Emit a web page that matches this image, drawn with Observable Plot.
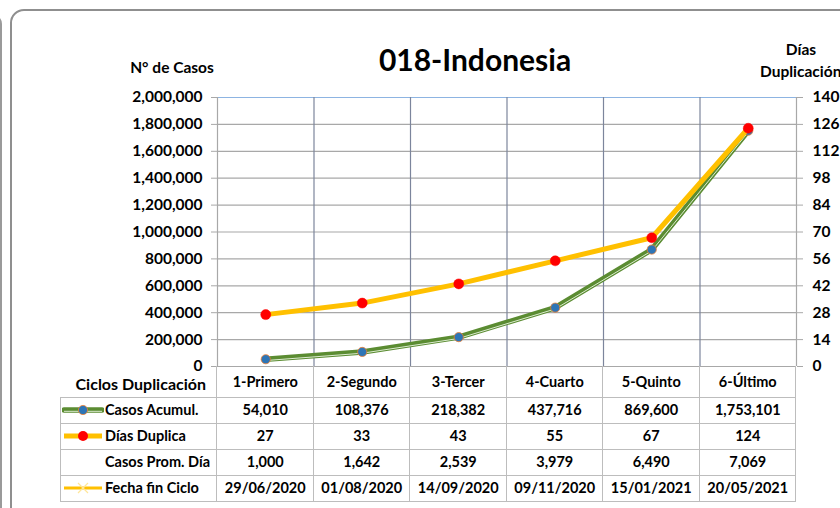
<!DOCTYPE html>
<html>
<head>
<meta charset="utf-8">
<script src="https://cdn.jsdelivr.net/npm/d3@7"></script>
<script src="https://cdn.jsdelivr.net/npm/@observablehq/plot@0.6"></script>
<style>
  body { margin: 0; background: #fff; }
  #wrap { position: relative; width: 840px; height: 508px; overflow: hidden; background: #fff;
          font-family: Lato, "Open Sans", sans-serif; font-weight: bold; color: #000; }
  .abs { position: absolute; white-space: nowrap; }
  #wrap svg { position: absolute; left: 0; top: 0; }
</style>
</head>
<body>
<div id="wrap"></div>
<script>
// ---- data ----
const categories = ["1-Primero", "2-Segundo", "3-Tercer", "4-Cuarto", "5-Quinto", "6-Último"];
const casosAcumul = [54010, 108376, 218382, 437716, 869600, 1753101];
const diasDuplica = [27, 33, 43, 55, 67, 124];
const casosPromDia = [1000, 1642, 2539, 3979, 6490, 7069];
const fechaFinCiclo = ["29/06/2020", "01/08/2020", "14/09/2020", "09/11/2020", "15/01/2021", "20/05/2021"];
const leftTicks = [0, 200000, 400000, 600000, 800000, 1000000, 1200000, 1400000, 1600000, 1800000, 2000000];
const rightTicks = [0, 14, 28, 42, 56, 70, 84, 98, 112, 126, 140];
const title = "018-Indonesia";

const yMax = 2000000, rMax = 140;
const toLeft = d => d * yMax / rMax;
const data = categories.map((c, i) => ({i, c, casos: casosAcumul[i], dias: diasDuplica[i]}));
const xc = d => d.i + 0.5;

const W = 840, H = 508;
const plot = Plot.plot({
  width: W, height: H,
  marginTop: 97, marginBottom: 142, marginLeft: 217, marginRight: 44,
  style: {fontFamily: "Lato, 'Open Sans', sans-serif", fontSize: "15px", fontWeight: "bold", background: "transparent", overflow: "visible", color: "#000"},
  x: {domain: [0, categories.length], axis: null},
  y: {domain: [0, yMax], axis: null},
  marks: [
    Plot.ruleY(leftTicks, {stroke: "#a8a8a8", strokeWidth: 1.2}),
    Plot.ruleY([yMax], {stroke: "#8db4e2", strokeWidth: 1.2}),
    Plot.ruleX(d3.range(1, categories.length), {stroke: "#7c859c", strokeWidth: 1.2}),
    Plot.ruleX([0, categories.length], {stroke: "#a8a8a8", strokeWidth: 1.2}),
    Plot.axisY(leftTicks, {anchor: "left", tickFormat: d3.format(","), tickSize: 6, tickPadding: 9, label: null, stroke: "#a8a8a8", fill: "#000", fontSize: 15.5}),
    Plot.axisY(rightTicks.map(toLeft), {anchor: "right", tickFormat: d => Math.round(d * rMax / yMax), tickSize: 6, tickPadding: 10, label: null, stroke: "#a8a8a8", fill: "#000", fontSize: 15.5}),
    Plot.line(data, {x: xc, y: "casos", stroke: "#5b8c32", strokeWidth: 5.5}),
    Plot.line(data, {x: xc, y: "casos", stroke: "#dcecd0", strokeWidth: 1, dy: 1.3}),
    Plot.dot(data, {x: xc, y: "casos", r: 4.6, fill: "#2e75b6", stroke: "#ed7d31", strokeWidth: 0.8}),
    Plot.line(data, {x: xc, y: d => toLeft(d.dias), stroke: "#ffc000", strokeWidth: 5}),
    Plot.dot(data, {x: xc, y: d => toLeft(d.dias), r: 5, fill: "#ff0000", stroke: "#ff0000", strokeWidth: 0.5})
  ]
});

const wrap = document.getElementById("wrap");
function el(tag, css, text) {
  const e = document.createElement(tag);
  e.className = "abs";
  Object.assign(e.style, css);
  if (text !== undefined) e.textContent = text;
  wrap.appendChild(e);
  return e;
}

// chart frames (rounded borders)
el("div", {left: "-40px", top: "14px", width: "42px", height: "520px", border: "2px solid #9a9a9a", borderRadius: "10px", boxSizing: "border-box"});
el("div", {left: "10px", top: "9px", width: "860px", height: "530px", border: "2px solid #8f8f8f", borderRadius: "14px", boxSizing: "border-box"});

wrap.appendChild(plot);

// titles
el("div", {left: "475px", top: "41px", transform: "translateX(-50%)", fontSize: "30px"}, title);
el("div", {left: "172px", top: "58px", transform: "translateX(-50%)", fontSize: "15.5px"}, "N° de Casos");
el("div", {left: "801px", top: "40px", transform: "translateX(-50%)", fontSize: "15.5px"}, "Días");
el("div", {left: "760px", top: "62px", fontSize: "15.5px"}, "Duplicación");

// data table, aligned on the plot's x scale
const xs = plot.scale("x");
const bounds = d3.range(categories.length + 1).map(i => xs.apply(i));
const yBottom = plot.scale("y").apply(0);
const rowTops = [397, 423, 449, 475];
const rowH = 26;
const tableLeft = 60;
const tableBottom = rowTops[rowTops.length - 1] + rowH;

// header row
el("div", {left: (bounds[0] - 11) + "px", top: "376px", lineHeight: "1", transform: "translateX(-100%)", fontSize: "16px"}, "Ciclos Duplicación");
categories.forEach((c, i) => {
  el("div", {left: ((bounds[i] + bounds[i + 1]) / 2) + "px", top: "373px", transform: "translateX(-50%)", fontSize: "14.5px"}, c);
});

// grid lines of table
rowTops.concat([tableBottom]).forEach(y => {
  el("div", {left: tableLeft + "px", top: (y - 0.5) + "px", width: (bounds[bounds.length - 1] - tableLeft) + "px", height: "0", borderTop: "1.5px solid #bdbdbd"});
});
el("div", {left: (tableLeft - 0.5) + "px", top: rowTops[0] + "px", width: "0", height: (tableBottom - rowTops[0]) + "px", borderLeft: "1.5px solid #bdbdbd"});
bounds.forEach(x => {
  el("div", {left: (x - 0.6) + "px", top: yBottom + "px", width: "0", height: (tableBottom - yBottom) + "px", borderLeft: "1.5px solid #bdbdbd"});
});

const rows = [
  {label: "Casos Acumul.", values: casosAcumul.map(d3.format(",")), key: "green"},
  {label: "Días Duplica", values: diasDuplica.map(String), key: "yellow"},
  {label: "Casos Prom. Día", values: casosPromDia.map(d3.format(",")), key: null},
  {label: "Fecha fin Ciclo", values: fechaFinCiclo, key: "cross"}
];

rows.forEach((r, k) => {
  const top = rowTops[k];
  el("div", {left: "105px", top: (top + 4) + "px", fontSize: "14.5px"}, r.label);
  r.values.forEach((v, i) => {
    el("div", {left: ((bounds[i] + bounds[i + 1]) / 2) + "px", top: (top + 4) + "px", transform: "translateX(-50%)", fontSize: "14.5px"}, v);
  });
  if (r.key) {
    const ns = "http://www.w3.org/2000/svg";
    const s = document.createElementNS(ns, "svg");
    s.setAttribute("width", 42); s.setAttribute("height", 14);
    s.style.position = "absolute"; s.style.left = "62px"; s.style.top = (top + 6) + "px";
    let inner = "";
    if (r.key === "green") {
      inner = '<line x1="2" y1="7" x2="40" y2="7" stroke="#5b8c32" stroke-width="5.5" stroke-linecap="round"/>' +
              '<line x1="2" y1="8.3" x2="40" y2="8.3" stroke="#dcecd0" stroke-width="1"/>' +
              '<circle cx="21" cy="7" r="4.6" fill="#2e75b6" stroke="#ed7d31" stroke-width="0.8"/>';
    } else if (r.key === "yellow") {
      inner = '<line x1="2" y1="7" x2="40" y2="7" stroke="#ffc000" stroke-width="5"/>' +
              '<circle cx="21" cy="7" r="5" fill="#ff0000"/>';
    } else {
      inner = '<line x1="2" y1="7" x2="40" y2="7" stroke="#ffc000" stroke-width="3"/>' +
              '<path d="M16 2 L26 12 M26 2 L16 12" stroke="#ffe699" stroke-width="1.2"/>';
    }
    s.innerHTML = inner;
    wrap.appendChild(s);
  }
});
</script>
</body>
</html>
